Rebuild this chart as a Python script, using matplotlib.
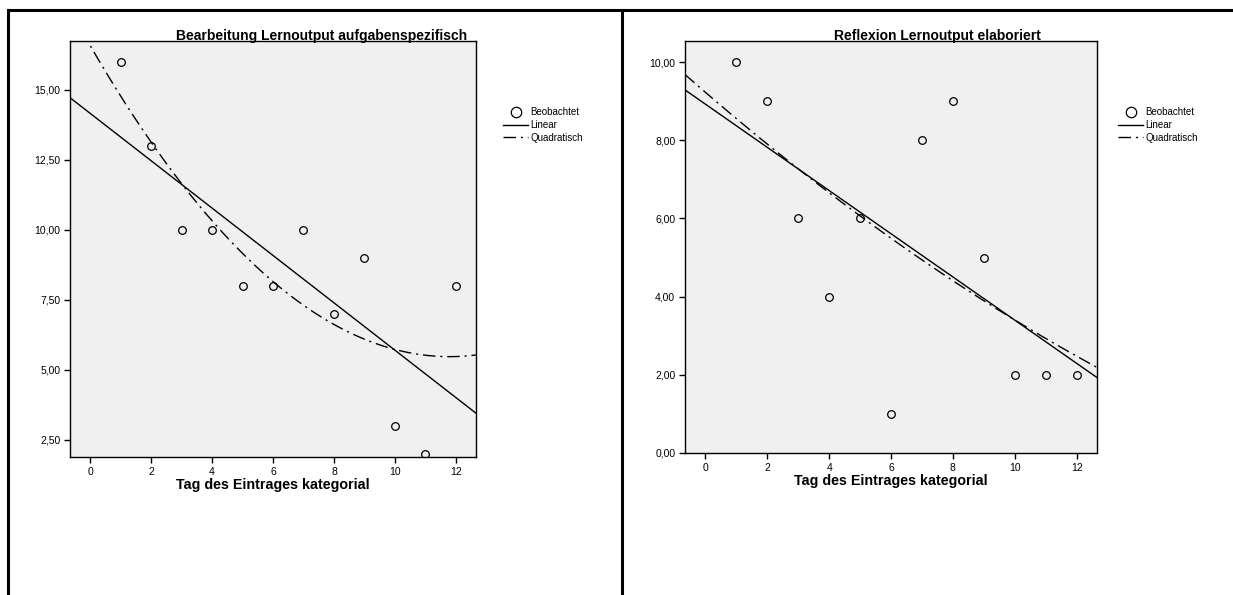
import numpy as np
import matplotlib
matplotlib.use("Agg")
import matplotlib.pyplot as plt
from matplotlib.lines import Line2D
from matplotlib.ticker import FuncFormatter, MultipleLocator

plt.rcParams['font.family'] = ['Liberation Sans', 'DejaVu Sans']

# data
tage = [1, 2, 3, 4, 5, 6, 7, 8, 9, 10, 11, 12]
bearbeitung = [16, 13, 10, 10, 8, 8, 10, 7, 9, 3, 2, 8]
reflexion = [10, 9, 6, 4, 6, 1, 8, 9, 5, 2, 2, 2]

titel = ["Bearbeitung Lernoutput aufgabenspezifisch", "Reflexion Lernoutput elaboriert"]
xlabel = "Tag des Eintrages kategorial"
legend_labels = ["Beobachtet", "Linear", "Quadratisch"]

W, H = 1233, 595
fig = plt.figure(figsize=(W / 100, H / 100), dpi=100)

# panel frame lines (pixel coords -> figure fraction)
def px(x, y):
    return x / W, 1 - y / H

for (x0, y0), (x1, y1) in [((8, 10), (8, 595)), ((8, 10), (1233, 10)), ((622, 10), (622, 595))]:
    a, b = px(x0, y0)
    c, d = px(x1, y1)
    fig.add_artist(Line2D([a, c], [b, d], color="black", lw=2.2, transform=fig.transFigure))

dashdot = (0, (9, 3.5, 1.5, 3.5))
komma = FuncFormatter(lambda v, p: ("%.2f" % v).replace(".", ","))

panels = [
    dict(y=bearbeitung, rect=(70, 41, 476, 457), ylim=(1.89, 16.75), ystep=2.5,
         title_x=322, leg_x=503),
    dict(y=reflexion, rect=(685, 41, 1097, 453), ylim=(0, 10.54), ystep=2.0,
         title_x=937, leg_x=1118),
]

for i, p in enumerate(panels):
    l, t, r, b = p["rect"]
    ax = fig.add_axes([l / W, 1 - b / H, (r - l) / W, (b - t) / H])
    ax.set_facecolor("#f0f0f0")
    x = np.array(tage, dtype=float)
    y = np.array(p["y"], dtype=float)
    xlim = (-0.66, 12.66)
    xs = np.linspace(xlim[0], xlim[1], 300)
    lin = np.polyfit(x, y, 1)
    quad = np.polyfit(x, y, 2)
    ax.plot(x, y, "o", mfc="none", mec="black", ms=5.5, mew=0.9, clip_on=True)
    ax.plot(xs, np.polyval(lin, xs), color="black", lw=1.0)
    ax.plot(xs, np.polyval(quad, xs), color="black", lw=1.0, linestyle=dashdot)
    ax.set_xlim(*xlim)
    ax.set_ylim(*p["ylim"])
    ax.xaxis.set_major_locator(MultipleLocator(2))
    ax.yaxis.set_major_locator(MultipleLocator(p["ystep"]))
    ax.yaxis.set_major_formatter(komma)
    ax.tick_params(direction="out", length=4, width=1, labelsize=7.5, colors="black", pad=3)
    for s in ["top", "right", "left", "bottom"]:
        ax.spines[s].set_linewidth(1.0)
        ax.spines[s].set_color("black")
    ax.set_xlabel(xlabel, fontsize=10.3, fontweight="bold", labelpad=1)

    tx, ty = px(p["title_x"], 36)
    fig.text(tx, ty, titel[i], ha="center", va="center", fontsize=10, fontweight="bold")

    handles = [
        Line2D([], [], marker="o", linestyle="none", mfc="none", mec="black", ms=7.5, mew=0.9),
        Line2D([], [], color="black", lw=1.0),
        Line2D([], [], color="black", lw=1.0, linestyle=dashdot),
    ]
    lx, ly = px(p["leg_x"], 107)
    fig.legend(handles, legend_labels, loc="upper left", bbox_to_anchor=(lx, ly),
               frameon=False, fontsize=7, handlelength=2.6, handletextpad=0.2,
               labelspacing=0.3, borderpad=0, borderaxespad=0)

fig.savefig("out.png", dpi=100)
